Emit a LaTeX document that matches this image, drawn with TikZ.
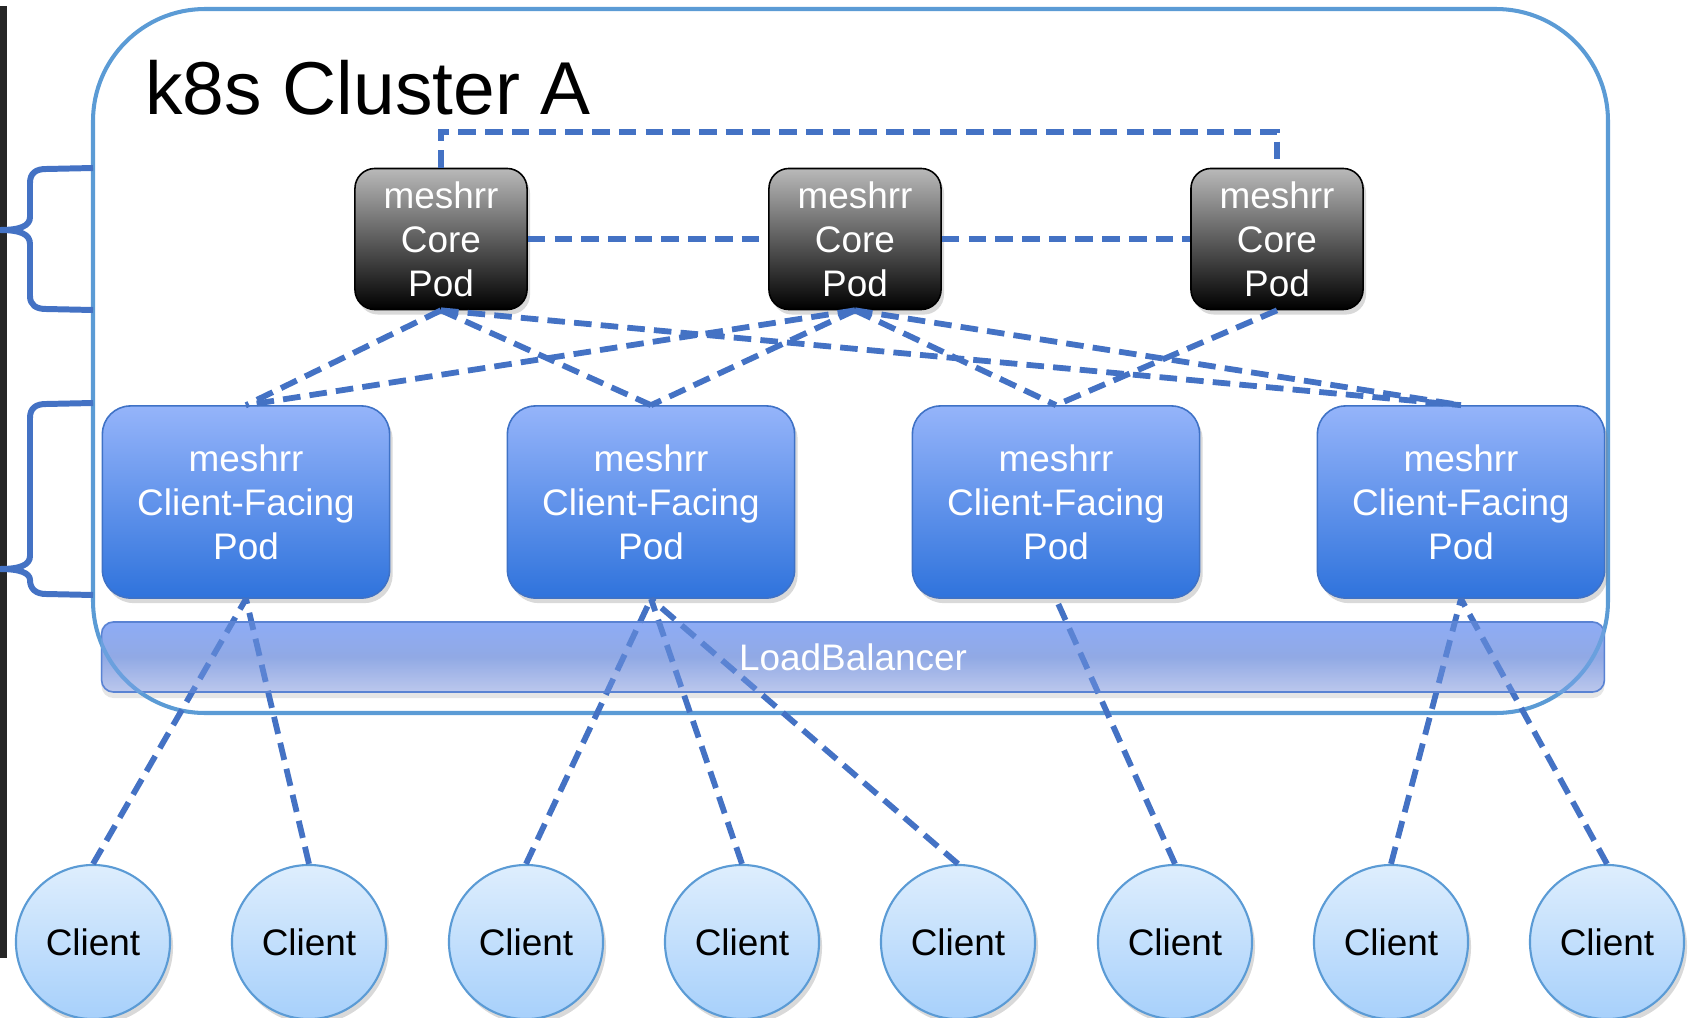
\documentclass[tikz,border=0pt]{standalone}
\usepackage{fontspec}
\setmainfont{Liberation Sans}
\usetikzlibrary{shadows}

\definecolor{clusterblue}{HTML}{5B9BD5}
\definecolor{linkblue}{HTML}{4472C4}
\definecolor{coretop}{HTML}{B9B9B9}
\definecolor{facetop}{HTML}{95B4FA}
\definecolor{facebottom}{HTML}{2F73DC}
\definecolor{faceborder}{HTML}{3F72C6}
\definecolor{lbtop}{HTML}{8EACF6}
\definecolor{lbmid}{HTML}{93A9DE}
\definecolor{lbbottom}{HTML}{D0D4E9}
\definecolor{clienttop}{HTML}{DEEEFD}
\definecolor{clientbottom}{HTML}{A7D0FB}
\definecolor{darkbar}{HTML}{262626}

\begin{document}
\begin{tikzpicture}[x=0.01cm, y=-0.01cm,
  podfont/.style={font=\fontsize{10.5}{12.5}\selectfont},
  corepod/.style={podfont, draw=black, line width=0.45pt, rounded corners=0.2cm,
    minimum width=1.72cm, minimum height=1.41cm, inner sep=0pt,
    top color=coretop, bottom color=black, text=white, align=center,
    drop shadow={opacity=0.3, shadow xshift=0.03cm, shadow yshift=-0.05cm}},
  facepod/.style={podfont, draw=faceborder, line width=0.45pt, rounded corners=0.28cm,
    minimum width=2.87cm, minimum height=1.92cm, inner sep=0pt,
    top color=facetop, bottom color=facebottom, text=white, align=center,
    drop shadow={opacity=0.3, shadow xshift=0.03cm, shadow yshift=-0.05cm}},
  client/.style={podfont, circle, draw=clusterblue, line width=0.6pt,
    minimum size=1.54cm, inner sep=0pt,
    top color=clienttop, bottom color=clientbottom, text=black,
    drop shadow={opacity=0.3, shadow xshift=0.03cm, shadow yshift=-0.05cm}},
  lbbar/.style={podfont, draw=linkblue, line width=0.45pt, rounded corners=0.12cm,
    minimum width=15.02cm, minimum height=0.70cm, inner sep=0pt,
    top color=lbtop, bottom color=lbbottom, middle color=lbmid,
    text=white, drop shadow={opacity=0.2, shadow xshift=0cm, shadow yshift=-0.06cm}},
  link/.style={draw=linkblue, line width=1.65pt, dash pattern=on 5pt off 2.6pt},
  bracket/.style={draw=linkblue, line width=1.7pt, line join=round}]
\useasboundingbox (0,0) rectangle (1696,1018);

% barra escura
\fill[darkbar] (0,6) rectangle (7,958);

% load balancer (atras das linhas)
\node[lbbar] (lb) at (853,657) {};

% cluster
\draw[clusterblue, line width=1.15pt, rounded corners=1.12cm] (93,9) rectangle (1608,713);
\node[anchor=base west, font=\fontsize{21.3}{25}\selectfont] (title) at (133,114) {k8s Cluster A};

% chaves
\draw[bracket] (93,168) -- (46,169) .. controls (36,169) and (30,173) .. (30,183)
  -- (30,217) .. controls (30,226) and (20,230) .. (0,230)
  .. controls (20,230) and (30,234) .. (30,244) -- (30,296)
  .. controls (30,305) and (36,309) .. (46,309) -- (93,310);
\draw[bracket] (93,403) -- (46,404) .. controls (36,404) and (30,408) .. (30,418)
  -- (30,556) .. controls (30,565) and (20,569) .. (0,569)
  .. controls (20,569) and (30,573) .. (30,580)
  .. controls (30,589) and (36,594) .. (46,594) -- (93,595);

% pods core
\node[corepod] (c1) at (441,239) {meshrr\\Core\\Pod};
\node[corepod] (c2) at (855,239) {meshrr\\Core\\Pod};
\node[corepod] (c3) at (1277,239) {meshrr\\Core\\Pod};

% pods client-facing
\node[facepod] (f1) at (246,502) {meshrr\\Client-Facing\\Pod};
\node[facepod] (f2) at (651,502) {meshrr\\Client-Facing\\Pod};
\node[facepod] (f3) at (1056,502) {meshrr\\Client-Facing\\Pod};
\node[facepod] (f4) at (1461,502) {meshrr\\Client-Facing\\Pod};

% clientes
\node[client] (k1) at (93,942) {Client};
\node[client] (k2) at (309,942) {Client};
\node[client] (k3) at (526,942) {Client};
\node[client] (k4) at (742,942) {Client};
\node[client] (k5) at (958,942) {Client};
\node[client] (k6) at (1175,942) {Client};
\node[client] (k7) at (1391,942) {Client};
\node[client] (k8) at (1607,942) {Client};

% malha entre os core
\draw[link] (c1.north) -- ++(0,-36) -| (c3.north);
\draw[link] (c1.east) -- (c2.west);
\draw[link] (c2.east) -- (c3.west);

% core para client-facing
\draw[link] (c1.south) -- (f1.north);
\draw[link] (c1.south) -- (f2.north);
\draw[link] (c1.south) -- (f4.north);
\draw[link] (c2.south) -- (f1.north);
\draw[link] (c2.south) -- (f2.north);
\draw[link] (c2.south) -- (f3.north);
\draw[link] (c2.south) -- (f4.north);
\draw[link] (c3.south) -- (f3.north);

% clientes para client-facing
\draw[link] (k1.north) -- (f1.south);
\draw[link] (k2.north) -- (f1.south);
\draw[link] (k3.north) -- (f2.south);
\draw[link] (k4.north) -- (f2.south);
\draw[link] (k5.north) -- (f2.south);
\draw[link] (k6.north) -- (f3.south);
\draw[link] (k7.north) -- (f4.south);
\draw[link] (k8.north) -- (f4.south);

% veu sobre as linhas e texto do balancer
\fill[lbtop, opacity=0.3, rounded corners=0.12cm] (lb.north west) rectangle (lb.south east);
\node[podfont, text=white] (lbtext) at (lb.center) {LoadBalancer};
\end{tikzpicture}
\end{document}
